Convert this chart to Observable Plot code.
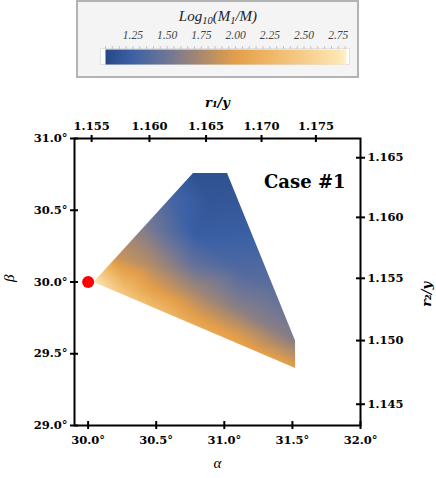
<!DOCTYPE html>
<html><head><meta charset="utf-8">
<script src="https://cdn.jsdelivr.net/npm/d3@7"></script>
<script src="https://cdn.jsdelivr.net/npm/@observablehq/plot@0.6"></script>
<style>
body{margin:0;background:#fff;}
#wrap{position:relative;width:436px;height:478px;overflow:hidden;}
#legendBox{position:absolute;left:76px;top:0px;width:279px;height:74px;background:#f4f4f4;border:2px solid #b3b3b3;}
#legendTitle{position:absolute;left:0;width:436px;top:8px;text-align:center;font-family:"Liberation Serif",serif;font-style:italic;font-size:15px;color:#222;}
#legendTitle sub{font-size:70%;vertical-align:-0.3em;line-height:0;}
#legendPlot{position:absolute;left:0;top:0;}
#main{position:absolute;left:0;top:80px;}
</style></head>
<body>
<div id="wrap">
  <div id="legendBox"></div>
  <div id="legendTitle">Log<sub>10</sub>(M<sub>1</sub>/M)</div>
  <div id="legendPlot"></div>
  <div id="main"></div>
</div>
<script>
// ---- data ----
const xTicks = [30.0, 30.5, 31.0, 31.5, 32.0];
const yTicks = [29.0, 29.5, 30.0, 30.5, 31.0];
const r1Ticks = [1.155, 1.160, 1.165, 1.170, 1.175];
const r2Ticks = [1.145, 1.150, 1.155, 1.160, 1.165];
const legendTicks = [1.25, 1.50, 1.75, 2.00, 2.25, 2.50, 2.75];

// colour map of Log10(M1/M)
const colorStops = [1.05, 1.25, 1.50, 1.75, 2.00, 2.25, 2.50, 2.75, 2.81];
const colorHex = ["#264a86", "#3d61a6", "#6f7696", "#aa8a6e", "#e49e4a", "#efb766", "#f6cd8c", "#fde6b2", "#fff2cc"];

// outline of the allowed region (alpha, beta)
const polyAlpha = [30.04, 30.77, 31.02, 31.52, 31.52];
const polyBeta  = [30.00, 30.76, 30.76, 29.59, 29.40];

// samples of Log10(M1/M)
const sampleAlpha = [30.04, 30.77, 31.02, 31.52, 31.52, 31.12, 30.78, 30.46, 30.20, 30.20, 30.40, 30.61, 31.19, 31.35, 30.78, 30.78, 30.78, 30.78, 31.12, 31.12, 31.12, 30.46, 30.46, 30.27, 30.90];
const sampleBeta  = [30.00, 30.76, 30.76, 29.59, 29.40, 29.56, 29.70, 29.83, 29.93, 30.17, 30.38, 30.59, 30.37, 29.98, 30.34, 30.12, 29.94, 29.77, 29.80, 29.63, 30.08, 29.94, 30.12, 29.98, 30.57];
const sampleValue = [2.75, 1.12, 1.12, 1.60, 2.02, 2.05, 2.12, 2.30, 2.50, 1.90, 1.58, 1.30, 1.22, 1.40, 1.22, 1.45, 1.72, 2.00, 1.62, 1.95, 1.35, 2.05, 1.78, 2.25, 1.15];

const redDot = [{a: 30.0, b: 30.0}];
const caseLabel = ["Case #1"];

// ---- build ----
const samples = sampleAlpha.map((a, i) => ({a, b: sampleBeta[i], v: sampleValue[i]}));
const toDeg = r => Math.acos(1 / r) * 180 / Math.PI;
const r1Alpha = r1Ticks.map(toDeg);
const r2Beta = r2Ticks.map(toDeg);
const colorOpts = {type: "linear", domain: colorStops, range: colorHex, interpolate: d3.interpolateRgb, clamp: true};

// legend colour bar
const lo = colorStops[0], hi = colorStops[colorStops.length - 1];
const minorTicks = d3.range(0, 36).map(i => +(1.05 + i * 0.05).toFixed(2));
const legend = Plot.plot({
  width: 436, height: 80,
  marginLeft: 105, marginRight: 90, marginTop: 49, marginBottom: 16,
  x: {domain: [lo, hi]}, y: {domain: [0, 1], axis: null},
  color: colorOpts,
  style: {fontFamily: "Liberation Serif", fontStyle: "italic", fontSize: "11.5px", color: "#444", background: "transparent"},
  marks: [
    Plot.frame({fill: "white", stroke: "#e2e2e2", insetLeft: -5, insetRight: -3, insetTop: -1, insetBottom: 0}),
    Plot.raster({fill: (x, y) => x, x1: lo, x2: hi, y1: 0, y2: 1, pixelSize: 1}),
    Plot.axisX({anchor: "top", ticks: minorTicks, tickSize: 3, tickPadding: 0, tickFormat: () => "", stroke: "#c4c4c4", dy: -1, label: null}),
    Plot.axisX({anchor: "top", ticks: legendTicks, tickSize: 0, tickPadding: 11, tickFormat: d => d.toFixed(2), label: null})
  ]
});
document.getElementById("legendPlot").appendChild(legend);

// main chart
const W = 436, H = 398, mL = 74, mR = 76, mT = 58, mB = 53;
const pW = W - mL - mR, pH = H - mT - mB;
const fmtDeg = d => d.toFixed(1) + "°";
const fmtR = d => (1 / Math.cos(d * Math.PI / 180)).toFixed(3);

const chart = Plot.plot({
  width: W, height: H,
  marginLeft: mL, marginRight: mR, marginTop: mT, marginBottom: mB,
  x: {domain: [29.9, 32.0]},
  y: {domain: [29.0, 31.0]},
  color: colorOpts,
  style: {fontFamily: "DejaVu Serif", fontSize: "11.5px", fontWeight: "bold", color: "black", background: "white"},
  marks: [
    Plot.raster(samples, {x: "a", y: "b", fill: "v", interpolate: "barycentric", pixelSize: 1, x1: 29.9, x2: 32.0, y1: 29.0, y2: 31.0}),
    Plot.frame({stroke: "black", strokeWidth: 2}),
    Plot.axisX({anchor: "bottom", ticks: xTicks, tickFormat: fmtDeg, tickSize: 4, tickPadding: 6, strokeWidth: 2, label: null}),
    Plot.axisX({anchor: "top", ticks: r1Alpha, tickFormat: fmtR, tickSize: 4, tickPadding: 5, strokeWidth: 2, label: null}),
    Plot.axisY({anchor: "left", ticks: yTicks, tickFormat: fmtDeg, tickSize: 4, tickPadding: 3, strokeWidth: 2, label: null}),
    Plot.axisY({anchor: "right", ticks: r2Beta, tickFormat: fmtR, tickSize: 4, tickPadding: 3, strokeWidth: 2, label: null}),
    Plot.tickX(xTicks, {x: d => d, insetTop: pH - 4, strokeWidth: 2}),
    Plot.tickX(r1Alpha, {x: d => d, insetBottom: pH - 4, strokeWidth: 2}),
    Plot.tickY(yTicks, {y: d => d, insetRight: pW - 4, strokeWidth: 2}),
    Plot.tickY(r2Beta, {y: d => d, insetLeft: pW - 4, strokeWidth: 2}),
    Plot.dot(redDot, {x: "a", y: "b", r: 6, fill: "#ff0000"}),
    Plot.text(caseLabel, {frameAnchor: "top-right", dx: -15, dy: 37, textAnchor: "end", lineAnchor: "top", fontSize: 18, fontWeight: "bold", fontFamily: "DejaVu Serif"}),
    Plot.text(["α"], {frameAnchor: "bottom", dy: 42, fontStyle: "italic", fontWeight: "normal", fontFamily: "Liberation Serif", fontSize: 15}),
    Plot.text(["β"], {frameAnchor: "left", dx: -65, rotate: -90, fontStyle: "italic", fontWeight: "normal", fontFamily: "Liberation Serif", fontSize: 15}),
    Plot.text(["r₁/y"], {frameAnchor: "top", dy: -41, fontStyle: "italic", fontWeight: "bold", fontFamily: "DejaVu Serif", fontSize: 13}),
    Plot.text(["r₂/y"], {frameAnchor: "right", dx: 66, rotate: -90, fontStyle: "italic", fontWeight: "bold", fontFamily: "DejaVu Serif", fontSize: 13})
  ]
});

// clip the raster to the region outline, using the chart's own scales
const sx = chart.scale("x"), sy = chart.scale("y");
const pts = polyAlpha.map((a, i) => [sx.apply(a), sy.apply(polyBeta[i])]);
const ns = "http://www.w3.org/2000/svg";
const defs = document.createElementNS(ns, "defs");
const cp = document.createElementNS(ns, "clipPath");
cp.setAttribute("id", "regionClip");
const pg = document.createElementNS(ns, "polygon");
pg.setAttribute("points", pts.map(p => p.join(",")).join(" "));
cp.appendChild(pg);
defs.appendChild(cp);
chart.insertBefore(defs, chart.firstChild);
const rg = chart.querySelector('[aria-label="raster"]');
if (rg) rg.setAttribute("clip-path", "url(#regionClip)");
document.getElementById("main").appendChild(chart);
</script>
</body></html>
